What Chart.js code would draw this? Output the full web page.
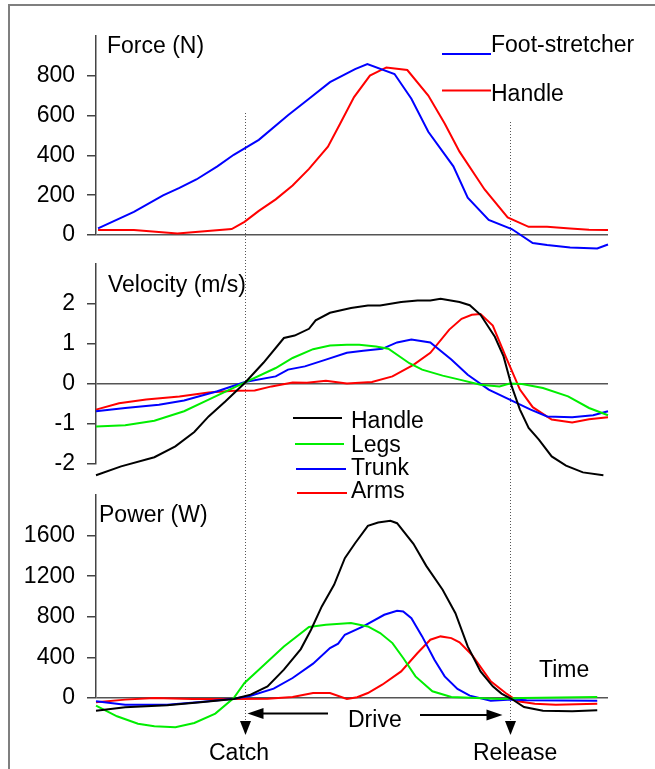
<!DOCTYPE html>
<html lang="en">
<head>
<meta charset="UTF-8">
<title>Rowing stroke: force, velocity and power</title>
<script src="https://cdn.jsdelivr.net/npm/chart.js"></script>
<style>
  body { margin: 0; background: #fff; }
  #stage { position: relative; width: 655px; height: 769px; overflow: hidden; }
  #stage canvas { position: absolute; left: 0; top: 0; }
</style>
</head>
<body>
<div id="stage">
  <canvas id="forceChart" width="655" height="769"></canvas>
  <canvas id="velocityChart" width="655" height="769"></canvas>
  <canvas id="powerChart" width="655" height="769"></canvas>
</div>
<script>
// time axis is % of the plotted window (0 = left end, 100 = right end)
const catchTime = 29.1;
const releaseTime = 80.8;

// ---- Force (N)
const forceTicks = [0, 200, 400, 600, 800];
const footStretcherTime = [0.4, 7.4, 13.1, 16.3, 19.6, 23.7, 26.9, 31.8, 37.5, 41.6, 45.7, 50.6, 53.0, 58.3, 61.6, 64.9, 69.8, 72.6, 76.7, 81.2, 85.3, 88.1, 92.6, 97.9, 100];
const footStretcherForce = [33, 116, 199, 237, 279, 345, 403, 478, 602, 685, 768, 834, 859, 809, 685, 519, 345, 187, 76, 30, -40, -50, -63, -68, -48];
const handleForceTime = [0.4, 7.4, 15.9, 26.5, 29.0, 31.8, 35.1, 38.4, 41.6, 45.3, 47.7, 50.4, 53.5, 56.7, 60.8, 64.9, 68.1, 71.0, 75.9, 80.4, 84.5, 88.1, 92.6, 96.3, 100];
const handleForce = [25, 25, 8, 30, 66, 121, 179, 249, 332, 444, 560, 693, 801, 842, 829, 701, 560, 419, 229, 88, 41, 41, 33, 27, 25];

// ---- Velocity (m/s)
const velocityTicks = [-2, -1, 0, 1, 2];
const handleVelTime = [0, 4.9, 11.4, 15.5, 19.2, 22.0, 25.3, 29.1, 32.7, 36.7, 38.8, 41.6, 42.9, 45.7, 49.8, 53.1, 55.5, 59.6, 62.8, 65.3, 67.3, 71.0, 73.0, 75.1, 77.9, 79.6, 81.2, 82.8, 84.5, 86.5, 89.0, 91.8, 95.1, 99.1];
const handleVel = [-2.28, -2.06, -1.83, -1.56, -1.2, -0.81, -0.43, 0.03, 0.53, 1.15, 1.21, 1.38, 1.59, 1.78, 1.9, 1.96, 1.96, 2.05, 2.09, 2.09, 2.13, 2.05, 1.97, 1.73, 1.18, 0.69, -0.06, -0.64, -1.1, -1.39, -1.81, -2.04, -2.21, -2.28];
const legsVelTime = [0, 5.7, 11.4, 17.2, 22.0, 29.1, 35.1, 38.4, 42.4, 45.7, 49.0, 51.4, 54.7, 57.1, 61.2, 63.7, 67.7, 71.0, 75.1, 78.8, 80.8, 83.2, 87.3, 92.2, 96.3, 100];
const legsVel = [-1.06, -1.03, -0.92, -0.68, -0.39, 0.04, 0.4, 0.65, 0.87, 0.96, 0.98, 0.98, 0.94, 0.88, 0.52, 0.36, 0.21, 0.11, -0.02, -0.06, 0.01, 0, -0.1, -0.31, -0.6, -0.78];
const trunkVelTime = [0, 5.7, 12.3, 17.2, 23.7, 29.1, 35.1, 37.5, 40.8, 44.9, 49.0, 52.2, 55.9, 58.8, 61.6, 65.3, 69.4, 72.6, 76.7, 80.8, 84.9, 88.1, 93.0, 97.1, 100];
const trunkVel = [-0.68, -0.6, -0.52, -0.41, -0.18, 0.05, 0.19, 0.36, 0.44, 0.61, 0.78, 0.83, 0.88, 1.04, 1.11, 1.04, 0.61, 0.23, -0.14, -0.39, -0.64, -0.81, -0.83, -0.78, -0.68];
const armsVelTime = [0, 4.5, 9.8, 16.3, 22.0, 26.9, 31.0, 34.3, 38.4, 41.2, 44.9, 49.0, 53.9, 57.9, 62.0, 65.3, 69.0, 71.4, 73.4, 75.1, 77.5, 80.0, 82.8, 85.3, 89.0, 93.0, 96.3, 100];
const armsVel = [-0.64, -0.48, -0.39, -0.31, -0.21, -0.17, -0.16, -0.06, 0.04, 0.03, 0.08, 0.01, 0.05, 0.19, 0.48, 0.78, 1.36, 1.63, 1.73, 1.75, 1.46, 0.69, -0.14, -0.58, -0.89, -0.96, -0.88, -0.83];

// ---- Power (W)
const powerTicks = [0, 400, 800, 1200, 1600];
const handlePowTime = [0, 5.7, 13.9, 20.4, 26.9, 30.2, 33.5, 36.7, 40.0, 42.0, 44.1, 46.5, 48.6, 50.6, 53.1, 55.1, 57.5, 58.8, 62.0, 64.5, 67.7, 70.2, 72.6, 75.1, 77.5, 79.2, 81.2, 83.6, 87.3, 93.0, 97.9];
const handlePow = [-125, -92, -72, -43, -10, 33, 115, 279, 482, 672, 902, 1115, 1378, 1525, 1696, 1729, 1745, 1722, 1519, 1302, 1066, 836, 508, 262, 115, 43, -10, -89, -125, -131, -121];
const legsPowTime = [0, 4.1, 8.2, 11.4, 15.5, 19.2, 23.3, 26.9, 29.0, 31.8, 36.7, 41.6, 44.9, 49.8, 53.1, 55.5, 57.9, 60.0, 62.4, 65.7, 69.4, 74.3, 79.2, 83.2, 97.9];
const legsPow = [-75, -180, -253, -279, -289, -246, -154, 0, 148, 279, 508, 699, 722, 738, 705, 640, 541, 394, 213, 66, 10, 0, -10, 0, 10];
const trunkPowTime = [0, 5.7, 13.9, 20.4, 26.9, 30.2, 34.7, 38.4, 42.4, 45.7, 47.3, 48.6, 52.2, 56.3, 58.8, 60.0, 61.6, 63.7, 66.1, 68.1, 70.6, 73.0, 77.1, 81.2, 84.1, 97.9];
const trunkPow = [-33, -66, -66, -39, -7, 23, 92, 197, 338, 492, 535, 623, 705, 820, 859, 853, 787, 607, 377, 213, 89, 23, -26, -16, -23, -26];
const armsPowTime = [0, 5.7, 11.4, 18.8, 26.9, 33.5, 38.4, 42.4, 45.7, 49.0, 51.0, 53.1, 55.9, 59.6, 62.8, 65.3, 67.3, 69.4, 71.0, 73.4, 77.1, 80.0, 82.4, 85.7, 89.8, 97.9];
const armsPow = [-43, -16, 0, -10, -10, -7, 10, 49, 49, -10, 7, 49, 131, 262, 443, 574, 607, 590, 548, 426, 164, 49, -33, -56, -66, -56];

const BLUE = '#0000ff', RED = '#ff0000', GREEN = '#00ee00', BLACK = '#000000';
const FAMILY = '"Liberation Sans", Arial, sans-serif';
const FONT = '23px ' + FAMILY;
const H = 769;

function series(label, times, values, color) {
    return {
        label: label,
        data: times.map((t, i) => ({ x: t, y: values[i] })),
        borderColor: color,
        borderWidth: 2,
        pointRadius: 0,
        tension: 0,
        fill: false,
        clip: false
    };
}

function text(ctx, str, x, y) {
    ctx.save();
    ctx.font = FONT;
    ctx.fillStyle = '#000';
    ctx.textBaseline = 'alphabetic';
    ctx.fillText(str, x, y);
    ctx.restore();
}

function legendItem(ctx, ds, x1, x2, ly, tx, ty) {
    ctx.save();
    ctx.strokeStyle = ds.borderColor;
    ctx.lineWidth = 2;
    ctx.beginPath();
    ctx.moveTo(x1, ly);
    ctx.lineTo(x2, ly);
    ctx.stroke();
    ctx.restore();
    text(ctx, ds.label, tx, ty);
}

// one panel = one chart on its own full-size transparent canvas
function makePanel(id, datasets, yMin, yMax, tickValues, top, bottom, hooks) {
    return new Chart(document.getElementById(id), {
        type: 'line',
        data: { datasets },
        options: {
            responsive: false,
            animation: false,
            devicePixelRatio: 1,
            layout: { padding: { left: 0, right: 47, top: top, bottom: H - bottom } },
            plugins: { legend: { display: false }, tooltip: { enabled: false } },
            scales: {
                x: { type: 'linear', min: 0, max: 100, display: false },
                y: {
                    min: yMin,
                    max: yMax,
                    afterFit: s => { s.width = 96; },
                    afterBuildTicks: s => { s.ticks = tickValues.map(v => ({ value: v })); },
                    border: { display: true, color: '#444', width: 1.5 },
                    grid: {
                        drawOnChartArea: true,
                        color: c => (c.tick && c.tick.value === 0) ? '#555' : 'rgba(0,0,0,0)',
                        lineWidth: 1.5,
                        tickLength: 9,
                        tickColor: '#444'
                    },
                    ticks: {
                        color: '#000',
                        padding: 12,
                        font: { family: FAMILY, size: 23 },
                        callback: v => String(v)
                    }
                }
            }
        },
        plugins: [Object.assign({ id: 'decor' }, hooks)]
    });
}

makePanel('forceChart', [
    series('Foot-stretcher', footStretcherTime, footStretcherForce, BLUE),
    series('Handle', handleForceTime, handleForce, RED)
], 0, 1000, forceTicks, 36, 235, {
    beforeDatasetsDraw(chart) {
        const ctx = chart.ctx;
        const xs = chart.scales.x;
        ctx.save();
        // outer frame (top and left edges)
        ctx.strokeStyle = '#7f7f7f';
        ctx.lineWidth = 2;
        ctx.beginPath();
        ctx.moveTo(9, H);
        ctx.lineTo(9, 5);
        ctx.lineTo(655, 5);
        ctx.stroke();
        // catch / release markers
        ctx.strokeStyle = '#555';
        ctx.lineWidth = 1;
        ctx.setLineDash([1, 2]);
        [[catchTime, 113], [releaseTime, 122]].forEach(([t, y0]) => {
            const px = Math.round(xs.getPixelForValue(t)) + 0.5;
            ctx.beginPath();
            ctx.moveTo(px, y0);
            ctx.lineTo(px, 722);
            ctx.stroke();
        });
        ctx.restore();
    },
    afterDraw(chart) {
        const ctx = chart.ctx;
        const ds = chart.data.datasets;
        text(ctx, 'Force (N)', 107, 53);
        legendItem(ctx, ds[0], 442, 491, 54, 491, 52);
        legendItem(ctx, ds[1], 442, 491, 90.5, 491, 101);
    }
});

makePanel('velocityChart', [
    series('Handle', handleVelTime, handleVel, BLACK),
    series('Legs', legsVelTime, legsVel, GREEN),
    series('Trunk', trunkVelTime, trunkVel, BLUE),
    series('Arms', armsVelTime, armsVel, RED)
], -2, 3, velocityTicks, 264, 464, {
    afterDraw(chart) {
        const ctx = chart.ctx;
        const ds = chart.data.datasets;
        text(ctx, 'Velocity (m/s)', 108, 292);
        legendItem(ctx, ds[0], 293, 342, 418, 351, 428);
        legendItem(ctx, ds[1], 295, 344, 444, 351, 452);
        legendItem(ctx, ds[2], 296, 346, 469, 351, 475);
        legendItem(ctx, ds[3], 297, 347, 493, 351, 498);
    }
});

makePanel('powerChart', [
    series('Handle', handlePowTime, handlePow, BLACK),
    series('Legs', legsPowTime, legsPow, GREEN),
    series('Trunk', trunkPowTime, trunkPow, BLUE),
    series('Arms', armsPowTime, armsPow, RED)
], 0, 2000, powerTicks, 495, 698, {
    afterDraw(chart) {
        const ctx = chart.ctx;
        const xs = chart.scales.x;
        const cx = Math.round(xs.getPixelForValue(catchTime)) + 0.5;
        const rx = Math.round(xs.getPixelForValue(releaseTime)) + 0.5;

        text(ctx, 'Power (W)', 99, 522);
        text(ctx, 'Time', 539, 677);
        text(ctx, 'Drive', 348, 727);
        text(ctx, 'Catch', 209, 760);
        text(ctx, 'Release', 473, 760);

        ctx.save();
        ctx.strokeStyle = '#000';
        ctx.fillStyle = '#000';
        ctx.lineWidth = 2;
        // horizontal "Drive" arrows
        ctx.beginPath();
        ctx.moveTo(328, 713.5); ctx.lineTo(cx + 14, 713.5);
        ctx.moveTo(420, 715); ctx.lineTo(rx - 22, 715);
        ctx.stroke();
        ctx.beginPath();
        ctx.moveTo(cx + 2, 713.5); ctx.lineTo(cx + 18, 708); ctx.lineTo(cx + 18, 719); ctx.closePath();
        ctx.moveTo(rx - 8, 715); ctx.lineTo(rx - 24, 709.5); ctx.lineTo(rx - 24, 720.5); ctx.closePath();
        ctx.fill();
        // downward arrow heads at catch / release
        [cx, rx].forEach(px => {
            ctx.beginPath();
            ctx.moveTo(px - 5.5, 721);
            ctx.lineTo(px + 5.5, 721);
            ctx.lineTo(px, 735);
            ctx.closePath();
            ctx.fill();
        });
        ctx.restore();
    }
});
</script>
</body>
</html>
